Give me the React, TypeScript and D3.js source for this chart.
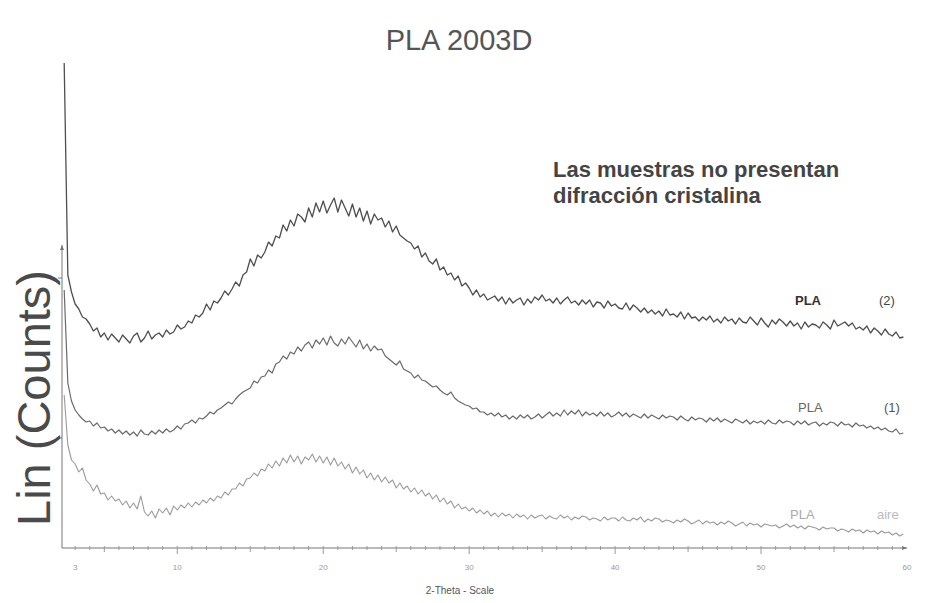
import React, { useEffect, useRef } from 'react';
import * as d3 from 'd3';

const W = 927;
const H = 603;

// barrido 2-Theta: primer punto y paso (grados)
const thetaStart = 2.25;
const thetaStep = 0.25;

// PLA (2) - Lin (Counts)
const pla2 = [
  970, 546, 512,
  488, 478, 462, 458,
  448, 434, 440, 422,
  430, 416, 428, 420,
  412, 426, 418, 410,
  424, 430, 412, 420,
  434, 418, 426, 430,
  422, 436, 428, 432,
  446, 438, 442, 454,
  450, 466, 462, 470,
  488, 476, 494, 490,
  500, 514, 506, 518,
  532, 524, 546, 552,
  578, 564, 586, 580,
  592, 612, 604, 624,
  620, 646, 634, 656,
  644, 668, 662, 652,
  680, 662, 690, 672,
  694, 670, 686, 700,
  672, 696, 680, 664,
  688, 662, 680, 654,
  674, 648, 668, 656,
  660, 642, 654, 632,
  644, 626, 620, 614,
  610, 598, 604, 582,
  590, 574, 568, 578,
  556, 562, 546, 550,
  536, 544, 524, 530,
  520, 506, 516, 502,
  508, 496, 500, 504,
  494, 502, 488, 500,
  490, 496, 500, 486,
  498, 490, 502, 496,
  506, 494, 498, 490,
  500, 488, 496, 502,
  490, 494, 486, 496,
  488, 496, 482, 492,
  490, 480, 494, 484,
  488, 480, 478, 490,
  476, 486, 480, 472,
  480, 470, 476, 468,
  474, 464, 478, 466,
  468, 462, 472, 458,
  470, 460, 462, 454,
  462, 456, 464, 452,
  458, 450, 462, 454,
  458, 448, 460, 452,
  450, 462, 454, 446,
  460, 450, 442, 456,
  448, 458, 452, 444,
  454, 444, 450, 438,
  452, 442, 448, 446,
  440, 452, 446, 438,
  456, 444, 448, 452,
  444, 450, 438, 442,
  436, 444, 430, 440,
  434, 426, 438, 428,
  424, 432, 420, 422,
];

// PLA (1)
const pla1 = [
  516, 330, 294,
  276, 266, 258, 252,
  254, 244, 250, 240,
  242, 234, 238, 230,
  236, 228, 234, 226,
  232, 224, 236, 228,
  226, 234, 228, 236,
  230, 238, 232, 236,
  244, 238, 248, 250,
  256, 250, 260, 258,
  264, 272, 268, 276,
  280, 286, 292, 288,
  298, 306, 312, 316,
  320, 334, 330, 342,
  344, 356, 350, 368,
  372, 384, 378, 392,
  388, 402, 394, 406,
  412, 400, 416, 408,
  420, 406, 424, 410,
  404, 418, 408, 422,
  412, 402, 416, 398,
  408, 394, 404, 396,
  398, 384, 378, 372,
  366, 374, 358, 354,
  350, 340, 346, 336,
  334, 328, 322, 324,
  316, 310, 306, 312,
  300, 294, 290, 286,
  284, 278, 280, 272,
  272, 266, 270, 264,
  270, 262, 266, 258,
  264, 258, 266, 260,
  266, 258, 262, 268,
  260, 266, 272, 264,
  270, 264, 276, 266,
  274, 268, 276, 264,
  272, 266, 270, 264,
  272, 264, 270, 262,
  266, 272, 264, 270,
  262, 268, 264, 260,
  268, 260, 266, 262,
  258, 266, 260, 264,
  262, 256, 264, 258,
  254, 262, 256, 260,
  258, 252, 260, 254,
  260, 252, 258, 254,
  250, 258, 254, 250,
  256, 248, 254, 250,
  254, 248, 256, 250,
  248, 256, 250, 254,
  252, 246, 254, 248,
  254, 246, 250, 252,
  244, 250, 246, 252,
  250, 244, 252, 246,
  248, 242, 250, 244,
  246, 240, 244, 238,
  242, 236, 240, 234,
  232, 238, 228, 230,
];

// PLA aire
const plaAire = [
  306, 206, 176,
  168, 152, 160, 136,
  128, 114, 126, 108,
  110, 96, 104, 94,
  98, 86, 94, 80,
  90, 78, 104, 72,
  64, 74, 60, 78,
  70, 80, 66, 84,
  76, 86, 80, 90,
  82, 92, 86, 96,
  90, 100, 94, 104,
  100, 112, 106, 118,
  118, 130, 124, 138,
  140, 150, 144, 158,
  154, 168, 160, 174,
  164, 180, 170, 186,
  172, 184, 168, 182,
  176, 188, 172, 184,
  170, 182, 166, 180,
  164, 172, 158, 168,
  150, 162, 148, 156,
  140, 150, 136, 146,
  132, 142, 130, 136,
  120, 130, 118, 124,
  112, 120, 108, 116,
  104, 110, 98, 106,
  92, 100, 88, 94,
  80, 88, 78, 82,
  74, 80, 70, 76,
  68, 74, 64, 70,
  62, 70, 64, 68,
  60, 68, 62, 66,
  58, 66, 60, 64,
  66, 58, 64, 60,
  58, 66, 60, 64,
  56, 62, 58, 64,
  62, 56, 60, 58,
  54, 62, 56, 60,
  60, 54, 62, 56,
  54, 60, 56, 62,
  52, 58, 54, 60,
  58, 52, 56, 54,
  50, 56, 52, 58,
  54, 48, 52, 56,
  48, 54, 50, 52,
  46, 52, 48, 54,
  50, 44, 48, 52,
  44, 50, 46, 48,
  42, 48, 46, 44,
  46, 40, 44, 48,
  42, 46, 40, 44,
  38, 44, 42, 40,
  36, 42, 38, 40,
  40, 34, 38, 36,
  32, 38, 34, 36,
  30, 36, 32, 34,
  28, 34, 30, 32,
  26, 30, 24, 28,
];

const xTickLabels = [3, 10, 20, 30, 40, 50, 60];
const yTicks = [220, 540];
const yAxisTop = 606;

const FONT = '"Liberation Sans", Arial, sans-serif';

const App = () => {
  const ref = useRef<SVGSVGElement>(null);

  useEffect(() => {
    if (!ref.current) return;
    const svg = d3.select(ref.current);
    svg.selectAll('*').remove();

    const x = d3.scaleLinear().domain([2.1, 60]).range([62, 907]);
    const y = d3.scaleLinear().domain([0, 970]).range([548, 63]);

    // ejes
    const axis = svg.append('g').attr('stroke', '#777').attr('stroke-width', 1);
    axis.append('line')
      .attr('x1', x(2.1)).attr('x2', x(60))
      .attr('y1', y(0)).attr('y2', y(0));
    axis.append('line')
      .attr('x1', x(2.1)).attr('x2', x(2.1))
      .attr('y1', y(0)).attr('y2', y(yAxisTop));
    // flechas
    svg.append('path')
      .attr('d', `M${x(2.1) - 2},${y(yAxisTop) + 5} L${x(2.1)},${y(yAxisTop)} L${x(2.1) + 2},${y(yAxisTop) + 5}Z`)
      .attr('fill', '#777');
    svg.append('path')
      .attr('d', `M${x(60) - 5},${y(0) - 2} L${x(60)},${y(0)} L${x(60) - 5},${y(0) + 2}Z`)
      .attr('fill', '#777');

    // marcas del eje x cada grado
    const minor = d3.range(3, 60, 1);
    axis.selectAll('.xt')
      .data(minor)
      .enter()
      .append('line')
      .attr('class', 'xt')
      .attr('x1', d => x(d)).attr('x2', d => x(d))
      .attr('y1', y(0) - 2)
      .attr('y2', d => y(0) + (d % 10 === 0 ? 6 : d % 5 === 0 ? 4 : 2))
      .attr('stroke', '#999');

    svg.selectAll('.xl')
      .data(xTickLabels)
      .enter()
      .append('text')
      .attr('class', 'xl')
      .attr('x', d => x(d))
      .attr('y', 570)
      .attr('text-anchor', 'middle')
      .attr('font-size', '8px')
      .attr('font-family', FONT)
      .attr('fill', '#999')
      .text(d => d);

    axis.selectAll('.yt')
      .data(yTicks)
      .enter()
      .append('line')
      .attr('class', 'yt')
      .attr('x1', x(2.1) - 4).attr('x2', x(2.1))
      .attr('y1', d => y(d)).attr('y2', d => y(d));

    // curvas
    const line = d3.line<number>()
      .x((d, i) => x(thetaStart + i * thetaStep))
      .y(d => y(d))
      .curve(d3.curveLinear);

    const curves = [
      { values: plaAire, stroke: '#9a9a9a', w: 1.1 },
      { values: pla1, stroke: '#6a6a6a', w: 1.2 },
      { values: pla2, stroke: '#4e4e4e', w: 1.3 },
    ];
    curves.forEach(c => {
      svg.append('path')
        .datum(c.values)
        .attr('fill', 'none')
        .attr('stroke', c.stroke)
        .attr('stroke-width', c.w)
        .attr('stroke-linejoin', 'round')
        .attr('d', line);
    });

    // textos
    const txt = (s: string, tx: number, ty: number, size: number, fill: string, weight = 'normal', anchor = 'start') =>
      svg.append('text')
        .attr('x', tx).attr('y', ty)
        .attr('font-size', size + 'px')
        .attr('font-family', FONT)
        .attr('font-weight', weight)
        .attr('text-anchor', anchor)
        .attr('fill', fill)
        .text(s);

    txt('PLA 2003D', 459, 50, 29, '#555', 'normal', 'middle');
    txt('Las muestras no presentan', 553, 177, 22, '#444', 'bold');
    txt('difracción cristalina', 553, 203, 22, '#444', 'bold');

    txt('PLA', 795, 305, 13, '#333', 'bold');
    txt('(2)', 879, 305, 13, '#444');
    txt('PLA', 798, 412, 13, '#666');
    txt('(1)', 884, 412, 13, '#555');
    txt('PLA', 790, 519, 13, '#aaa');
    txt('aire', 877, 519, 13, '#bbb');

    txt('2-Theta - Scale', 460, 594, 10, '#555', 'normal', 'middle');

    svg.append('text')
      .attr('transform', 'translate(50,398) rotate(-90)')
      .attr('text-anchor', 'middle')
      .attr('font-size', '47px')
      .attr('font-family', FONT)
      .attr('fill', '#4a4a4a')
      .text('Lin (Counts)');
  }, []);

  return (
    <svg
      ref={ref}
      width={W}
      height={H}
      style={{ position: 'absolute', left: 0, top: 0, background: '#fff' }}
    />
  );
};

export default App;
